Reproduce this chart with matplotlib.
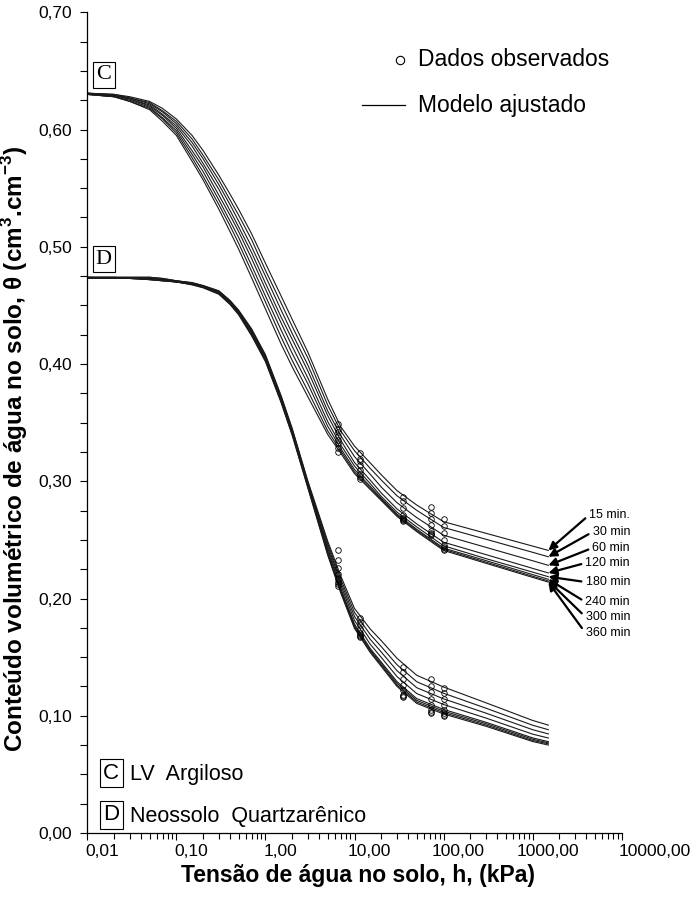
import matplotlib
matplotlib.use("Agg")
import matplotlib.pyplot as plt
import matplotlib.transforms as mtransforms
from matplotlib.ticker import MultipleLocator, LogLocator, FixedLocator, FuncFormatter, NullFormatter

plt.rcParams['font.family'] = ['Liberation Sans', 'DejaVu Sans']
plt.rcParams['mathtext.fontset'] = 'custom'
plt.rcParams['mathtext.rm'] = 'Liberation Sans'
plt.rcParams['mathtext.bf'] = 'Liberation Sans:bold'

# tension values (kPa) where the fitted curves were read
H = [0.01, 0.02, 0.03, 0.05, 0.07, 0.1, 0.15, 0.2, 0.3, 0.4, 0.5, 0.7, 1, 1.5, 2, 3,
     5, 7, 10, 15, 20, 30, 50, 100, 300, 1000, 1500]

TIMES = ['15 min.', '30 min', '60 min', '120 min', '180 min', '240 min', '300 min', '360 min']

# C - LV Argiloso, fitted model
C_15 = [0.631, 0.630, 0.628, 0.624, 0.618, 0.609, 0.595, 0.582, 0.561, 0.545, 0.532, 0.511, 0.486, 0.458,
        0.438, 0.410, 0.370, 0.3466, 0.330, 0.3157, 0.3055, 0.292, 0.2797, 0.2655, 0.2556, 0.2447, 0.241]
C_30 = [0.631, 0.630, 0.627, 0.623, 0.616, 0.607, 0.592, 0.578, 0.557, 0.540, 0.527, 0.506, 0.480, 0.452,
        0.432, 0.405, 0.365, 0.343, 0.326, 0.311, 0.301, 0.2876, 0.2752, 0.2606, 0.2505, 0.2394, 0.2356]
C_60 = [0.631, 0.629, 0.627, 0.622, 0.615, 0.605, 0.589, 0.575, 0.553, 0.536, 0.522, 0.500, 0.475, 0.446,
        0.426, 0.399, 0.360, 0.339, 0.321, 0.306, 0.295, 0.2817, 0.269, 0.254, 0.2436, 0.2322, 0.2283]
C_120 = [0.631, 0.629, 0.626, 0.621, 0.613, 0.603, 0.586, 0.571, 0.549, 0.531, 0.517, 0.495, 0.469, 0.440,
         0.421, 0.394, 0.356, 0.335, 0.316, 0.301, 0.290, 0.2764, 0.2636, 0.248, 0.2374, 0.2257, 0.2218]
C_180 = [0.630, 0.629, 0.626, 0.620, 0.612, 0.601, 0.582, 0.568, 0.544, 0.527, 0.513, 0.490, 0.464, 0.435,
         0.415, 0.388, 0.351, 0.331, 0.313, 0.298, 0.287, 0.2737, 0.261, 0.245, 0.234, 0.2225, 0.2186]
C_240 = [0.630, 0.628, 0.625, 0.619, 0.610, 0.599, 0.579, 0.564, 0.540, 0.522, 0.508, 0.484, 0.458, 0.429,
         0.409, 0.383, 0.347, 0.328, 0.310, 0.2957, 0.2855, 0.272, 0.259, 0.243, 0.2323, 0.2204, 0.2164]
C_300 = [0.630, 0.628, 0.624, 0.618, 0.609, 0.597, 0.576, 0.560, 0.536, 0.518, 0.503, 0.479, 0.453, 0.423,
         0.403, 0.377, 0.343, 0.326, 0.308, 0.2944, 0.2845, 0.271, 0.258, 0.242, 0.231, 0.219, 0.215]
C_360 = [0.630, 0.628, 0.624, 0.617, 0.607, 0.595, 0.573, 0.557, 0.532, 0.513, 0.498, 0.4735, 0.447, 0.417,
         0.3975, 0.372, 0.340, 0.324, 0.3065, 0.293, 0.2835, 0.270, 0.257, 0.241, 0.230, 0.218, 0.214]

# D - Neossolo Quartzarenico, fitted model
D_15 = [0.474, 0.474, 0.474, 0.474, 0.473, 0.471, 0.4695, 0.467, 0.4625, 0.4543, 0.446, 0.430, 0.408, 0.373,
        0.345, 0.300, 0.249, 0.2193, 0.1915, 0.174, 0.164, 0.149, 0.1345, 0.1245, 0.111, 0.096, 0.092]
D_30 = [0.474, 0.474, 0.474, 0.474, 0.473, 0.471, 0.4692, 0.4667, 0.4621, 0.4538, 0.4454, 0.4291, 0.4071, 0.3721,
        0.3441, 0.2991, 0.247, 0.2167, 0.1881, 0.1694, 0.1589, 0.1435, 0.129, 0.1192, 0.1064, 0.0919, 0.0881]
D_60 = [0.474, 0.474, 0.473, 0.473, 0.472, 0.471, 0.4689, 0.4664, 0.4616, 0.4533, 0.4449, 0.4283, 0.4063, 0.3713,
        0.3433, 0.2983, 0.245, 0.2141, 0.1847, 0.1652, 0.1543, 0.1384, 0.1239, 0.1144, 0.1022, 0.0881, 0.0845]
D_120 = [0.474, 0.473, 0.473, 0.473, 0.472, 0.470, 0.4686, 0.4661, 0.4612, 0.4528, 0.4443, 0.4274, 0.4054, 0.3704,
         0.3424, 0.2974, 0.243, 0.2115, 0.1813, 0.161, 0.1497, 0.1334, 0.1189, 0.1096, 0.098, 0.0843, 0.081]
D_180 = [0.473, 0.473, 0.473, 0.473, 0.472, 0.470, 0.4684, 0.4659, 0.4608, 0.4523, 0.4437, 0.4266, 0.4046, 0.3696,
         0.3416, 0.2966, 0.241, 0.2089, 0.1782, 0.1574, 0.1457, 0.1291, 0.1146, 0.1054, 0.0944, 0.0811, 0.0779]
D_240 = [0.473, 0.473, 0.473, 0.472, 0.471, 0.470, 0.4681, 0.4656, 0.4604, 0.4518, 0.4431, 0.4257, 0.4037, 0.3687,
         0.3407, 0.2957, 0.2394, 0.2073, 0.1767, 0.1562, 0.1444, 0.1276, 0.1131, 0.104, 0.0932, 0.080, 0.0769]
D_300 = [0.473, 0.473, 0.473, 0.472, 0.471, 0.470, 0.4678, 0.4653, 0.4599, 0.4513, 0.4426, 0.4249, 0.4029, 0.3679,
         0.3399, 0.2949, 0.2382, 0.206, 0.1755, 0.155, 0.1431, 0.1262, 0.1117, 0.1027, 0.092, 0.0789, 0.076]
D_360 = [0.473, 0.473, 0.473, 0.472, 0.471, 0.470, 0.4675, 0.465, 0.4595, 0.4508, 0.442, 0.424, 0.402, 0.367,
         0.339, 0.294, 0.237, 0.2048, 0.1745, 0.154, 0.142, 0.125, 0.1105, 0.1015, 0.091, 0.078, 0.075]

# observed data: one row per tension, 8 sampling times each
H_OBS = [6.5, 11.5, 35, 72, 100]
C_OBS = [
    [0.349, 0.345, 0.342, 0.339, 0.335, 0.333, 0.328, 0.325],
    [0.324, 0.319, 0.317, 0.314, 0.310, 0.306, 0.304, 0.302],
    [0.287, 0.283, 0.277, 0.271, 0.269, 0.268, 0.267, 0.266],
    [0.278, 0.273, 0.268, 0.263, 0.258, 0.256, 0.255, 0.254],
    [0.268, 0.262, 0.256, 0.250, 0.246, 0.244, 0.242, 0.241],
]
D_OBS = [
    [0.241, 0.233, 0.226, 0.221, 0.217, 0.214, 0.212, 0.211],
    [0.183, 0.180, 0.177, 0.174, 0.171, 0.169, 0.168, 0.167],
    [0.142, 0.137, 0.131, 0.126, 0.122, 0.118, 0.117, 0.116],
    [0.131, 0.125, 0.120, 0.114, 0.109, 0.105, 0.103, 0.102],
    [0.124, 0.119, 0.114, 0.109, 0.105, 0.102, 0.101, 0.100],
]

X_TICKS = [0.01, 0.1, 1, 10, 100, 1000, 10000]

c_curves = [C_15, C_30, C_60, C_120, C_180, C_240, C_300, C_360]
d_curves = [D_15, D_30, D_60, D_120, D_180, D_240, D_300, D_360]

fig = plt.figure(figsize=(6.96, 8.98), dpi=100)
ax = fig.add_axes([0.1254, 0.0724, 0.7679, 0.9139])

line_col = '#1a1a1a'
for curve in c_curves + d_curves:
    ax.plot(H, curve, color=line_col, lw=0.8, zorder=2)

for obs in (C_OBS, D_OBS):
    for h, vals in zip(H_OBS, obs):
        ax.plot([h] * len(vals), vals, linestyle='none', marker='o', ms=4,
                mfc='none', mec='black', mew=0.6, zorder=3)

ax.set_xscale('log')
ax.set_xlim(0.01, 10000)
ax.set_ylim(0, 0.70)

ax.spines['top'].set_visible(False)
ax.spines['right'].set_visible(False)
ax.spines['left'].set_linewidth(0.9)
ax.spines['bottom'].set_linewidth(0.9)

ax.xaxis.set_major_locator(FixedLocator(X_TICKS))
ax.xaxis.set_minor_locator(LogLocator(base=10, subs=range(2, 10)))
ax.xaxis.set_minor_formatter(NullFormatter())
ax.xaxis.set_major_formatter(FuncFormatter(lambda v, p: f"{v:.2f}".replace('.', ',')))
ax.yaxis.set_major_locator(MultipleLocator(0.1))
ax.yaxis.set_minor_locator(MultipleLocator(0.025))
ax.yaxis.set_major_formatter(FuncFormatter(lambda v, p: f"{v:.2f}".replace('.', ',')))

ax.tick_params(axis='both', which='both', direction='out', width=0.8, labelsize=12.5)
ax.tick_params(axis='x', which='major', length=5, pad=3)
ax.tick_params(axis='x', which='minor', length=4)
ax.tick_params(axis='y', which='both', length=5, pad=6)

# x tick labels sit a little right of their ticks, the last one even more
labels = ax.xaxis.get_majorticklabels()
for i, lbl in enumerate(labels):
    shift = 0.15 if i < len(labels) - 1 else 0.33
    lbl.set_transform(lbl.get_transform() + mtransforms.ScaledTranslation(shift, 0, fig.dpi_scale_trans))

fig.text(0.514, 0.0245, 'Tensão de água no solo, h, (kPa)', ha='center', va='center',
         fontsize=16.5, fontweight='bold')
fig.text(0.0216, 0.5, r'Conteúdo volumétrico de água no solo, θ (cm$^{\mathbf{3}}$.cm$^{\mathbf{-3}}$)',
         rotation=90, ha='center', va='center', fontsize=17.5, fontweight='bold')

# boxed curve identifiers
box = dict(boxstyle='square,pad=0.15', fc='white', ec='black', lw=0.8)
ax.text(0.031, 0.924, 'C', transform=ax.transAxes, ha='center', va='center',
        fontsize=16, family='Liberation Serif', bbox=box)
ax.text(0.031, 0.699, 'D', transform=ax.transAxes, ha='center', va='center',
        fontsize=16, family='Liberation Serif', bbox=box)

# legend for soils
ax.text(0.045, 0.073, 'C', transform=ax.transAxes, ha='center', va='center', fontsize=16, bbox=box)
ax.text(0.080, 0.071, 'LV  Argiloso', transform=ax.transAxes, ha='left', va='center', fontsize=15.5)
ax.text(0.045, 0.022, 'D', transform=ax.transAxes, ha='center', va='center', fontsize=16, bbox=box)
ax.text(0.080, 0.020, 'Neossolo  Quartzarênico', transform=ax.transAxes, ha='left', va='center', fontsize=15.5)

# legend for symbols
ax.plot([0.585], [0.942], marker='o', ms=6, mfc='none', mec='black', mew=0.8,
        transform=ax.transAxes, clip_on=False)
ax.text(0.619, 0.942, 'Dados observados', transform=ax.transAxes, ha='left', va='center', fontsize=16.5)
ax.plot([0.514, 0.594], [0.887, 0.887], color='black', lw=0.9, transform=ax.transAxes, clip_on=False)
ax.text(0.619, 0.887, 'Modelo ajustado', transform=ax.transAxes, ha='left', va='center', fontsize=16.5)

# arrows pointing to the end of each C curve
label_y = [0.3875, 0.3668, 0.3473, 0.329, 0.3058, 0.2815, 0.2632, 0.2437]
for name, curve, ly in zip(TIMES, c_curves, label_y):
    ax.annotate(name, xy=(H[-1], curve[-1]), xycoords='data',
                xytext=(1.0155, ly), textcoords='axes fraction',
                ha='right', va='center', fontsize=9, annotation_clip=False,
                arrowprops=dict(arrowstyle='-|>', color='black', lw=1.6,
                                mutation_scale=12, shrinkA=1, shrinkB=0,
                                relpos=(0, 0.5)))

fig.savefig('out.png', dpi=100)
